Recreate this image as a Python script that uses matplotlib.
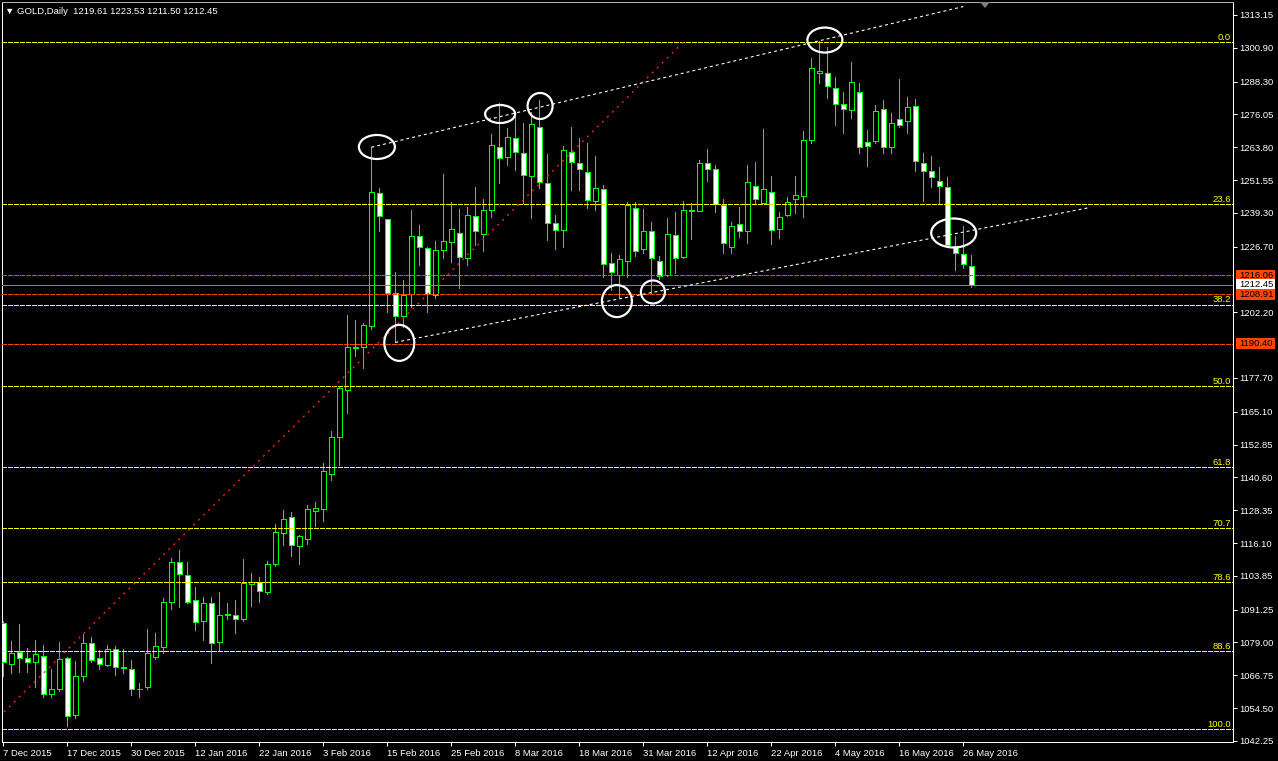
import matplotlib
matplotlib.use("Agg")
import matplotlib.pyplot as plt
import matplotlib.transforms as mtransforms
from matplotlib.patches import Ellipse, Rectangle, Polygon
import numpy as np

# ---------------- data ----------------
opens = [1086.3, 1071.0, 1075.4, 1073.2, 1071.7, 1074.0, 1059.8, 1061.6, 1073.2, 1052.0,
         1066.5, 1078.8, 1073.2, 1070.6, 1076.6, 1069.5, 1069.1, 1061.5, 1062.4, 1073.6,
         1077.3, 1094.0, 1108.9, 1104.2, 1094.9, 1087.0, 1093.7, 1079.2, 1089.4, 1089.3,
         1087.8, 1100.7, 1101.6, 1097.8, 1108.3, 1119.8, 1125.8, 1115.0, 1117.6, 1128.2,
         1128.9, 1141.9, 1155.6, 1173.2, 1189.0, 1189.1, 1197.1, 1246.7, 1236.9, 1209.3,
         1200.8, 1209.0, 1230.8, 1226.2, 1208.7, 1225.5, 1228.4, 1231.7, 1222.5, 1238.0,
         1231.5, 1240.4, 1263.8, 1260.1, 1267.1, 1261.5, 1253.1, 1271.3, 1250.4, 1235.5,
         1232.9, 1262.1, 1257.8, 1254.5, 1243.9, 1248.1, 1220.6, 1216.1, 1221.4, 1241.2,
         1225.8, 1232.5, 1221.3, 1216.1, 1231.0, 1222.8, 1240.0, 1240.0, 1257.9, 1255.6,
         1242.2, 1226.6, 1235.1, 1232.5, 1249.4, 1243.0, 1247.1, 1233.2, 1238.6, 1244.5,
         1245.6, 1266.5, 1291.5, 1291.5, 1285.9, 1279.8, 1277.7, 1284.5, 1265.6, 1266.1,
         1277.9, 1263.8, 1274.3, 1273.6, 1279.3, 1258.1, 1255.0, 1251.3, 1249.0, 1227.0,
         1223.9, 1219.61]

highs = [1087.0, 1079.6, 1085.9, 1077.0, 1079.9, 1078.1, 1069.1, 1079.2, 1073.6, 1072.1,
         1082.2, 1081.0, 1076.3, 1078.1, 1077.8, 1076.4, 1072.5, 1064.0, 1083.9, 1082.7,
         1095.5, 1110.6, 1113.5, 1108.9, 1099.7, 1096.0, 1096.0, 1097.8, 1093.7, 1094.9,
         1110.2, 1104.9, 1103.5, 1109.4, 1123.2, 1128.5, 1127.7, 1119.1, 1130.3, 1131.4,
         1145.8, 1157.9, 1174.4, 1201.2, 1199.3, 1198.1, 1263.8, 1248.5, 1237.0, 1217.4,
         1214.3, 1240.4, 1234.7, 1226.6, 1228.9, 1253.8, 1243.4, 1240.8, 1241.4, 1248.9,
         1244.5, 1268.7, 1280.2, 1270.9, 1277.0, 1272.7, 1277.0, 1281.4, 1261.3, 1238.5,
         1264.4, 1271.5, 1267.2, 1265.3, 1260.5, 1249.7, 1224.4, 1223.6, 1243.5, 1243.5,
         1240.8, 1235.9, 1223.2, 1237.3, 1239.7, 1243.7, 1243.1, 1259.0, 1263.1, 1257.2,
         1244.5, 1235.9, 1241.5, 1257.2, 1258.3, 1270.6, 1253.1, 1239.7, 1245.4, 1253.1,
         1269.9, 1297.0, 1303.4, 1301.2, 1289.9, 1284.5, 1295.7, 1287.6, 1270.2, 1279.6,
         1281.4, 1276.5, 1289.2, 1282.4, 1281.7, 1261.6, 1260.5, 1256.3, 1252.6, 1230.7,
         1234.5, 1223.53]

lows = [1066.5, 1067.6, 1067.9, 1067.9, 1062.4, 1058.7, 1058.7, 1060.9, 1047.9, 1050.9,
        1064.6, 1071.7, 1069.1, 1070.2, 1066.9, 1067.7, 1059.4, 1058.8, 1061.6, 1072.9,
        1075.1, 1091.5, 1092.4, 1093.6, 1083.7, 1079.9, 1071.4, 1076.1, 1087.7, 1082.6,
        1087.0, 1092.8, 1094.1, 1097.2, 1107.5, 1115.2, 1111.4, 1108.4, 1115.8, 1122.5,
        1124.4, 1139.7, 1145.1, 1164.6, 1186.0, 1181.5, 1196.0, 1232.6, 1202.2, 1191.0,
        1196.8, 1204.2, 1219.9, 1202.2, 1207.6, 1222.4, 1220.9, 1211.3, 1219.9, 1227.3,
        1224.9, 1237.7, 1250.6, 1257.1, 1255.3, 1242.9, 1237.4, 1248.5, 1229.2, 1225.8,
        1226.6, 1247.9, 1247.9, 1241.0, 1240.4, 1215.5, 1210.5, 1207.9, 1215.5, 1223.2,
        1224.3, 1209.3, 1214.5, 1215.8, 1216.9, 1222.5, 1229.7, 1240.0, 1251.2, 1239.7,
        1224.3, 1224.3, 1230.4, 1228.0, 1243.0, 1243.0, 1227.6, 1230.0, 1238.2, 1239.4,
        1237.9, 1265.3, 1287.8, 1282.2, 1272.1, 1269.0, 1274.6, 1261.5, 1256.8, 1265.3,
        1261.5, 1261.5, 1271.3, 1269.2, 1255.0, 1243.9, 1249.1, 1243.0, 1227.3, 1218.0,
        1218.9, 1211.50]

closes = [1071.7, 1075.1, 1073.2, 1071.7, 1074.7, 1059.8, 1061.6, 1072.8, 1051.6, 1066.5,
          1078.8, 1072.5, 1070.9, 1076.6, 1069.9, 1069.7, 1061.6, 1061.7, 1075.1, 1077.7,
          1094.0, 1108.9, 1104.4, 1094.1, 1086.7, 1093.7, 1078.8, 1089.3, 1089.6, 1087.8,
          1101.1, 1101.5, 1098.1, 1108.3, 1120.3, 1125.1, 1115.2, 1118.7, 1128.7, 1129.2,
          1142.9, 1155.6, 1174.1, 1189.1, 1189.3, 1197.4, 1247.1, 1238.1, 1209.3, 1200.8,
          1208.6, 1230.8, 1226.6, 1209.1, 1225.5, 1228.9, 1233.2, 1222.7, 1238.7, 1232.5,
          1240.3, 1264.5, 1259.8, 1267.5, 1261.9, 1253.3, 1272.5, 1250.7, 1235.4, 1232.9,
          1262.8, 1258.2, 1255.7, 1244.1, 1248.5, 1220.1, 1217.3, 1222.1, 1242.3, 1225.1,
          1232.5, 1222.4, 1215.8, 1231.4, 1222.4, 1240.4, 1240.2, 1257.8, 1255.7, 1242.5,
          1228.0, 1234.4, 1232.5, 1250.7, 1244.5, 1248.2, 1232.9, 1237.8, 1243.3, 1246.0,
          1266.5, 1293.3, 1292.3, 1286.7, 1279.8, 1278.0, 1288.0, 1264.0, 1264.2, 1277.4,
          1263.8, 1272.9, 1272.1, 1278.8, 1258.7, 1255.0, 1252.6, 1249.3, 1227.3, 1224.2,
          1220.1, 1212.45]

date_labels = ["7 Dec 2015", "17 Dec 2015", "30 Dec 2015", "12 Jan 2016", "22 Jan 2016",
               "3 Feb 2016", "15 Feb 2016", "25 Feb 2016", "8 Mar 2016", "18 Mar 2016",
               "31 Mar 2016", "12 Apr 2016", "22 Apr 2016", "4 May 2016", "16 May 2016",
               "26 May 2016"]
bars_per_label = 8

price_ticks = [1313.15, 1300.90, 1288.30, 1276.05, 1263.80, 1251.55, 1239.30, 1226.70,
               1202.20, 1177.70, 1165.10, 1152.85, 1140.60, 1128.35, 1116.10, 1103.85,
               1091.25, 1079.00, 1066.75, 1054.50, 1042.25]

fib_high = 1303.0
fib_low = 1046.6
fib_levels = [0.0, 23.6, 38.2, 50.0, 61.8, 70.7, 78.6, 88.6, 100.0]
fib_anchor_bars = [-2.1, 85.0]

orange_levels = [1216.06, 1208.91, 1190.40]

channel_upper_bars = [46, 120]
channel_upper_prices = [1263.8, 1316.3]
channel_lower_bars = [49, 135.8]
channel_lower_prices = [1191.0, 1241.3]

circle_bars = [46.7, 62.1, 67.1, 102.7, 49.5, 76.7, 81.2, 118.8]
circle_prices = [1263.9, 1276.2, 1279.2, 1303.8, 1190.8, 1206.4, 1209.8, 1231.8]

symbol = "GOLD,Daily"

# ---------------- figure / layout ----------------
plt.rcParams['font.family'] = ['Liberation Sans', 'DejaVu Sans']
plt.rcParams['lines.scale_dashes'] = False

W, H = 1278, 761
PX = 0.72  # points per pixel at 100 dpi
fig = plt.figure(figsize=(W / 100, H / 100), dpi=100, facecolor='black')
ax_l, ax_r, ax_t, ax_b = 2, 1233, 2, 742
ax = fig.add_axes([ax_l / W, 1 - ax_b / H, (ax_r - ax_l) / W, (ax_b - ax_t) / H])
ax.set_facecolor('black')

bar_px = 8.0
first_bar_px = 3.3
ax.set_xlim((ax_l - first_bar_px) / bar_px, (ax_r - first_bar_px) / bar_px)
y_top, y_bot = 1318.0, 1041.87
ax.set_ylim(y_bot, y_top)
ppp = (y_top - y_bot) / (ax_b - ax_t)

GREEN = '#00ff00'
YELLOW = '#ffff00'
ORANGE = '#ff4500'
FS = 6.8

# ---------------- candles ----------------
O = np.array(opens); Hh = np.array(highs); L = np.array(lows); C = np.array(closes)
x = np.arange(len(O))
bull = C >= O
ax.vlines(x, L, Hh, color=GREEN, lw=1.0 * PX, zorder=2, antialiased=False)
body_bottom = np.minimum(O, C)
body_h = np.maximum(np.abs(C - O), 0.05)
fills = ['black' if b else 'white' for b in bull]
ax.bar(x, body_h, bottom=body_bottom, width=0.6, color=fills, edgecolor=GREEN,
       linewidth=1.0 * PX, zorder=3, antialiased=False)

# ---------------- fibonacci ----------------
fib_rng = fib_high - fib_low
trans_ad = mtransforms.blended_transform_factory(ax.transAxes, ax.transData)
for lv in fib_levels:
    p = fib_high - fib_rng * lv / 100.0
    ax.axhline(p, color=YELLOW, lw=1.0 * PX, ls=(0, (5 * PX, 2 * PX)), zorder=4,
               antialiased=False)
    ax.annotate(f"{lv:.1f}", xy=(1, p), xycoords=trans_ad, xytext=(-2 * PX, 2.2 * PX),
                textcoords='offset points', ha='right', va='baseline', color=YELLOW,
                fontsize=FS, zorder=5)
ax.plot(fib_anchor_bars, [fib_low, fib_high], color='#ff2020', lw=1.4 * PX,
        ls=(0, (2 * PX, 5 * PX)), zorder=4)

# ---------------- horizontal lines ----------------
for p in orange_levels:
    ax.axhline(p, color=ORANGE, lw=1.0 * PX, ls=(0, (5 * PX, 2 * PX)), zorder=4,
               antialiased=False)
bid = closes[-1]
ax.axhline(bid, color='#778899', lw=1.0 * PX, zorder=4, antialiased=False)

# ---------------- channel ----------------
ax.plot(channel_upper_bars, channel_upper_prices, color='white', lw=1.1 * PX,
        ls=(0, (3 * PX, 3 * PX)), zorder=4)
ax.plot(channel_lower_bars, channel_lower_prices, color='white', lw=1.1 * PX,
        ls=(0, (3 * PX, 3 * PX)), zorder=4)

# ---------------- circles ----------------
circle_w_px = [36, 30, 25, 35, 30, 30, 24, 45]
circle_h_px = [24, 18, 26, 25, 36, 32, 23, 29]
for cb, cp, wpx, hpx in zip(circle_bars, circle_prices, circle_w_px, circle_h_px):
    ax.add_patch(Ellipse((cb, cp), wpx / bar_px, hpx * ppp, fill=False, ec='white',
                         lw=2.2 * PX, zorder=6))

# ---------------- axes styling ----------------
for s in ['left', 'bottom', 'right']:
    ax.spines[s].set_color('white')
    ax.spines[s].set_linewidth(1.0 * PX)
    ax.spines[s].set_antialiased(False)
ax.spines['top'].set_color('#b0b0b0')
ax.spines['top'].set_linewidth(1.0 * PX)

ax.yaxis.tick_right()
ax.set_yticks(price_ticks)
ax.set_yticklabels([f"{v:.2f}" for v in price_ticks])
ax.tick_params(axis='y', direction='out', length=4 * PX, width=1.0 * PX, colors='white',
               pad=2 * PX, labelsize=FS)

date_pos = [i * bars_per_label for i in range(len(date_labels))]
ax.set_xticks(date_pos)
ax.set_xticklabels(date_labels, ha='left')
ax.tick_params(axis='x', direction='out', length=4 * PX, width=1.0 * PX, colors='white',
               pad=2.5 * PX, labelsize=FS)

# price boxes on the right axis
trans_fd = mtransforms.blended_transform_factory(fig.transFigure, ax.transData)
boxes = [(orange_levels[0], ORANGE), (bid, 'white'), (orange_levels[1], ORANGE),
         (orange_levels[2], ORANGE)]
for p, fc in boxes:
    fig.add_artist(Rectangle((1236 / W, p - 5.5 * ppp), 39 / W, 11 * ppp,
                             transform=trans_fd, fc=fc, ec='none', zorder=10))
    fig.text(1239 / W, p, f"{p:.2f}", transform=trans_fd, color='black', fontsize=FS,
             ha='left', va='center', zorder=11)

# header
fig.text(5 / W, 1 - 11.5 / H,
         f"\u25bc {symbol}  {opens[-1]:.2f} {highs[-1]:.2f} {lows[-1]:.2f} {closes[-1]:.2f}",
         color='white', fontsize=FS, ha='left', va='center')

# chart-shift marker
fig.add_artist(Polygon([(980 / W, 1 - 2 / H), (990 / W, 1 - 2 / H), (985 / W, 1 - 8 / H)],
                       closed=True, transform=fig.transFigure, fc='#808080', ec='none',
                       zorder=12))

fig.savefig('out.png', dpi=100, facecolor='black')
